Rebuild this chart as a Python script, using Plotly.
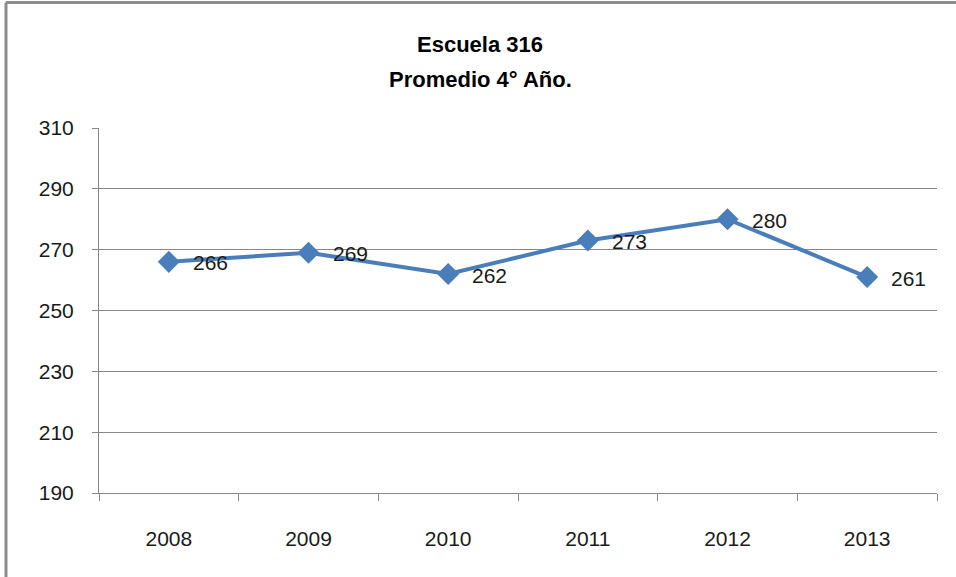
import plotly.graph_objects as go

# data
years = ["2008", "2009", "2010", "2011", "2012", "2013"]
promedio = [266, 269, 262, 273, 280, 261]
y_ticks = [190, 210, 230, 250, 270, 290, 310]

W, H = 956, 577
L, R, T, B = 99, 19, 128, 84
pw, ph = W - L - R, H - T - B


def px_x(x):
    # screen pixels -> paper coords
    return (x - L) / pw


def px_y(y):
    return 1 - (y - T) / ph


font = "Liberation Sans, Arial, sans-serif"
blue = "#4A7EBB"
grid = "#878787"

fig = go.Figure()
fig.add_trace(
    go.Scatter(
        x=years,
        y=promedio,
        mode="lines+markers",
        line=dict(color=blue, width=4),
        marker=dict(symbol="diamond", size=17, color=blue),
        cliponaxis=False,
        showlegend=False,
    )
)

# data labels to the right of each point (x given as category index)
for i, v in enumerate(promedio):
    fig.add_annotation(
        x=i, y=v, text=str(v), showarrow=False, xanchor="left", yanchor="middle",
        xshift=22, yshift=-1, font=dict(family=font, size=21, color="#1a1a1a"),
    )

fig.update_layout(
    width=W,
    height=H,
    margin=dict(l=L, r=R, t=T, b=B),
    paper_bgcolor="white",
    plot_bgcolor="white",
    font=dict(family=font, size=21, color="#1a1a1a"),
    showlegend=False,
)

fig.update_xaxes(
    type="category",
    range=[-0.5, len(years) - 0.5],
    tickson="boundaries",
    ticks="outside",
    ticklen=7,
    tickcolor=grid,
    showgrid=False,
    showline=True,
    linecolor=grid,
    linewidth=1,
    ticklabelstandoff=27,
    tickfont=dict(size=21),
)
fig.update_yaxes(
    range=[190, 310],
    tickvals=y_ticks,
    ticks="outside",
    ticklen=6,
    tickcolor=grid,
    showgrid=True,
    gridcolor=grid,
    gridwidth=1,
    showline=True,
    linecolor=grid,
    zeroline=False,
    ticklabelstandoff=14,
    tickfont=dict(size=21),
)

# two-line bold title
fig.add_annotation(
    x=px_x(480), y=px_y(45), xref="paper", yref="paper", xanchor="center", yanchor="middle",
    text="<b>Escuela 316</b>", showarrow=False, font=dict(family=font, size=22, color="black"),
)
fig.add_annotation(
    x=px_x(480), y=px_y(79), xref="paper", yref="paper", xanchor="center", yanchor="middle",
    text="<b>Promedio 4° Año.</b>", showarrow=False, font=dict(family=font, size=22, color="black"),
)

# chart frame (only top and left edges are visible in the reference)
fig.add_shape(type="line", xref="paper", yref="paper", x0=px_x(6), x1=px_x(980),
              y0=px_y(2.5), y1=px_y(2.5), line=dict(color="#8c8c8c", width=3))
fig.add_shape(type="line", xref="paper", yref="paper", x0=px_x(6), x1=px_x(6),
              y0=px_y(2.5), y1=px_y(600), line=dict(color="#8c8c8c", width=3))

# drop the default body margin so the figure sits at the page corner
fig.write_html(
    "out.html",
    config={"displayModeBar": False},
    post_script="document.body.style.margin='0';",
)
